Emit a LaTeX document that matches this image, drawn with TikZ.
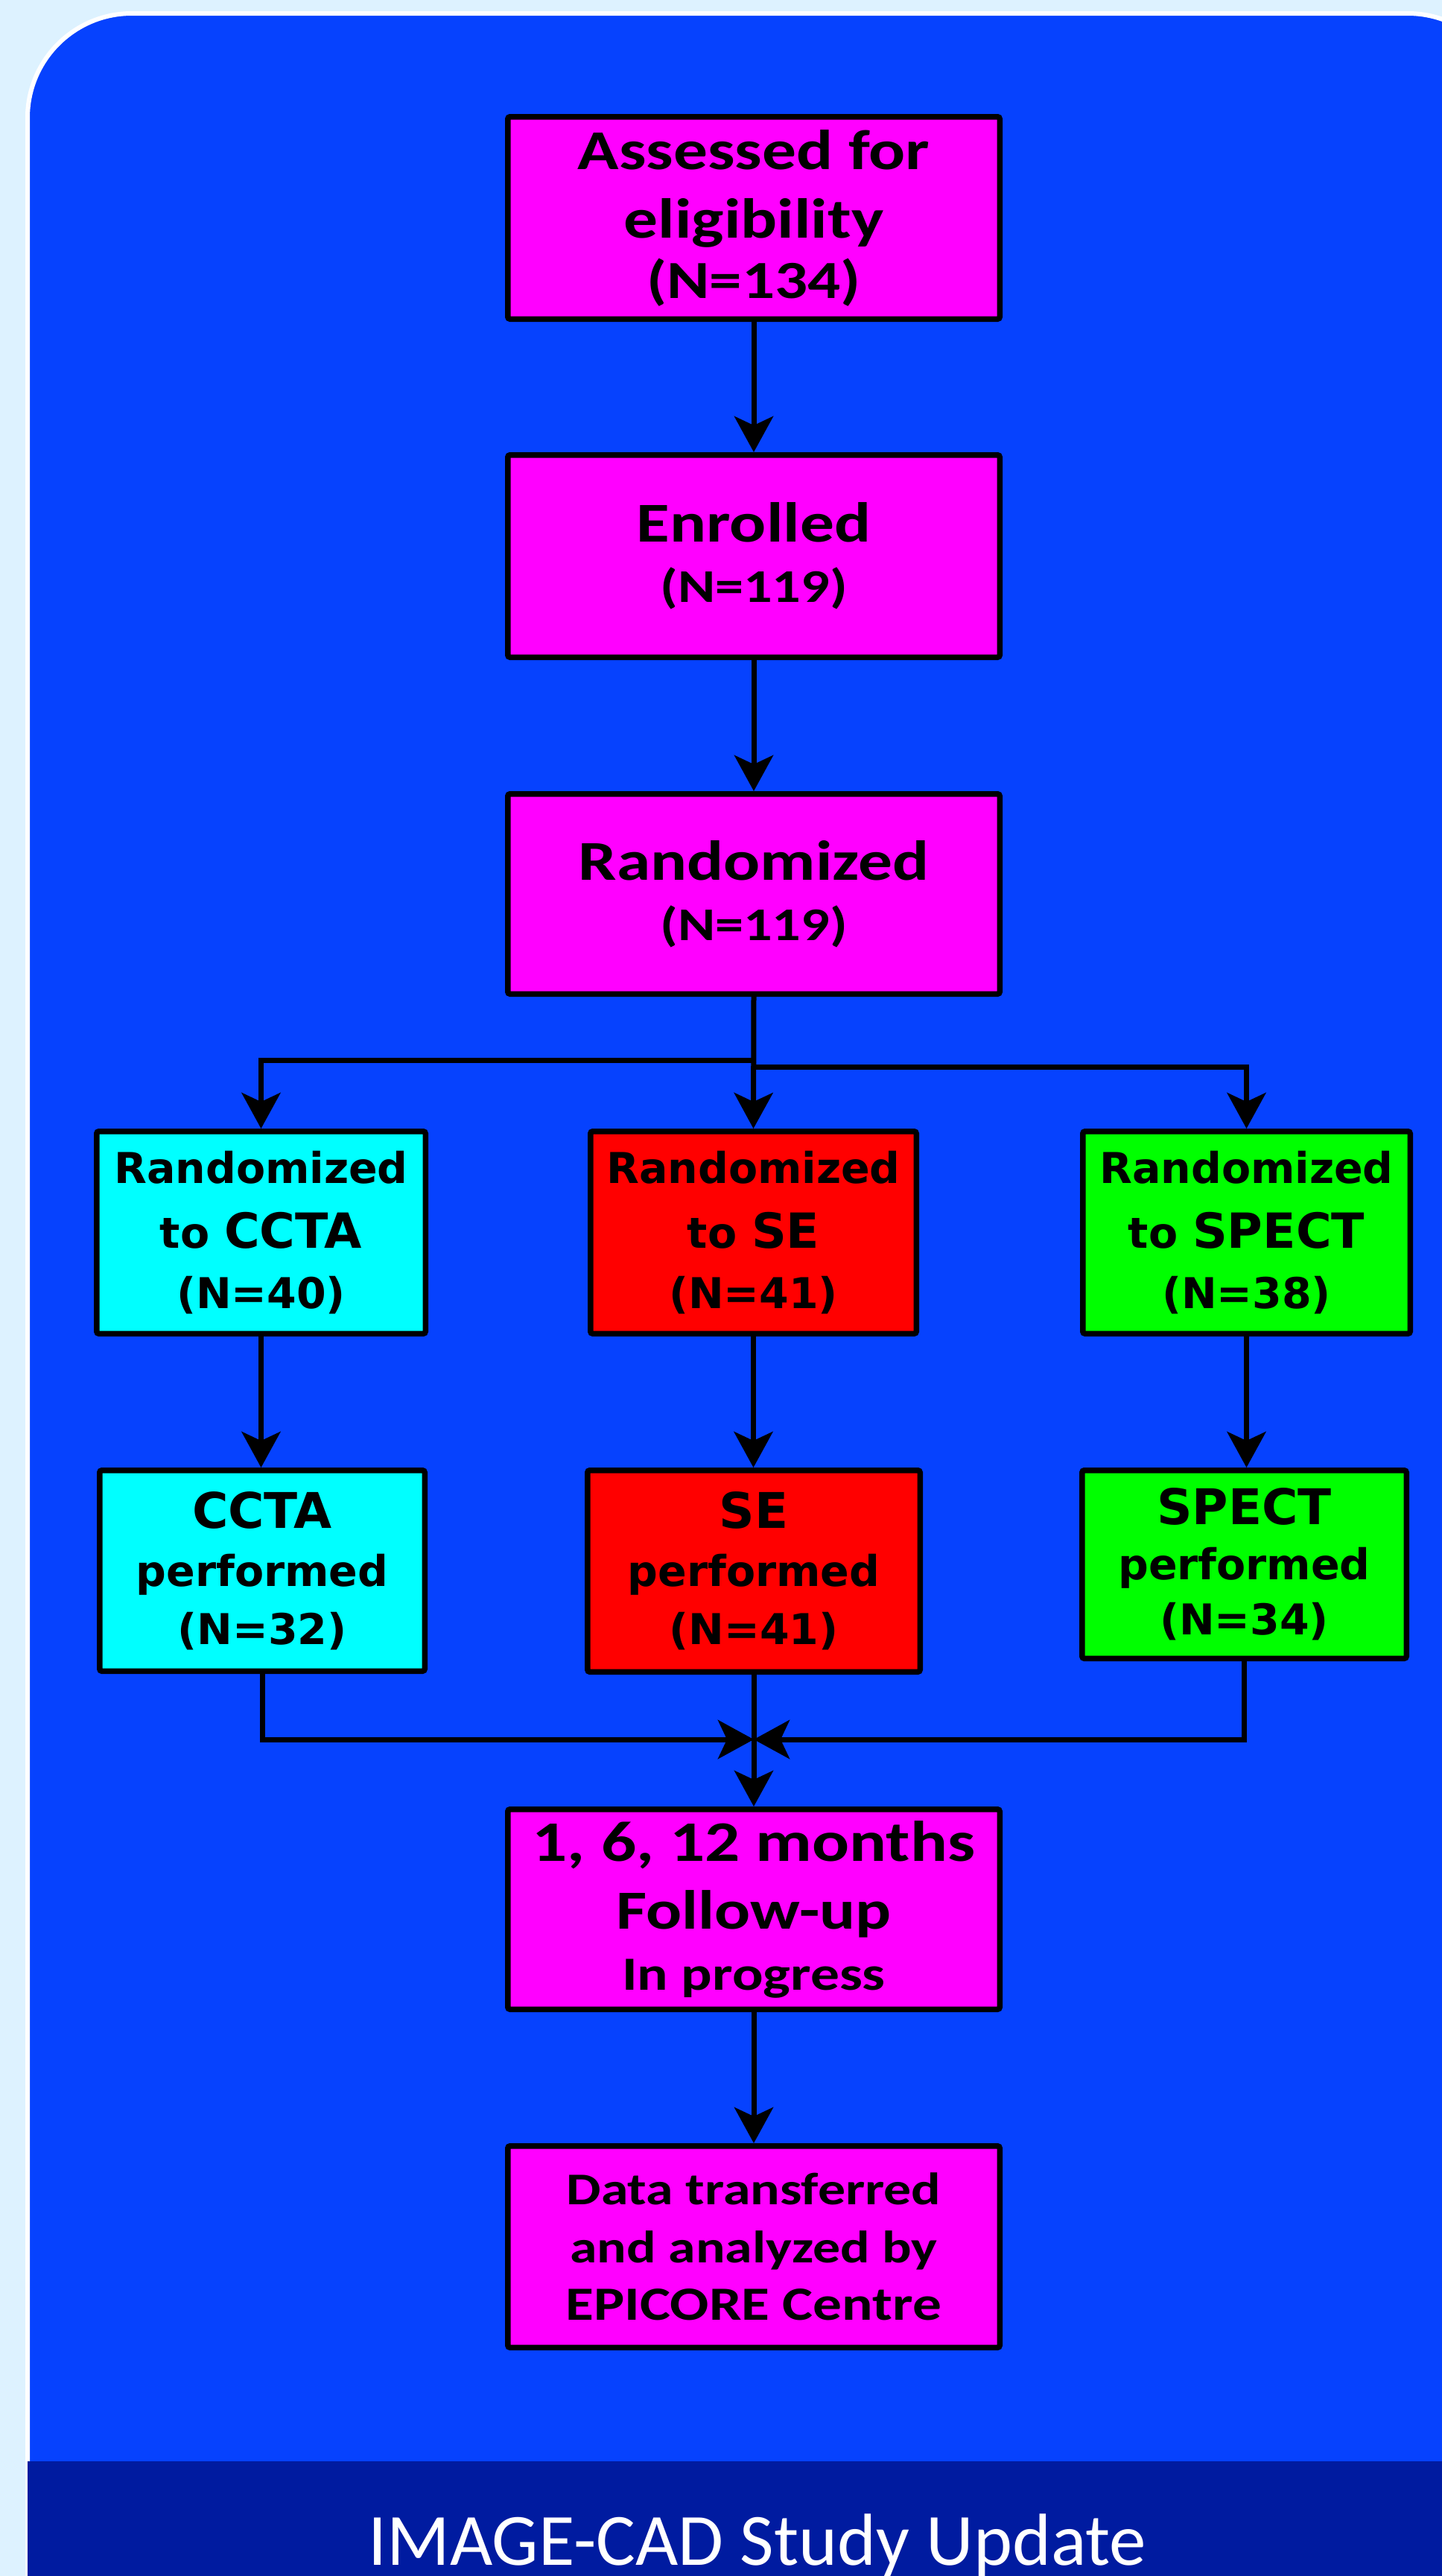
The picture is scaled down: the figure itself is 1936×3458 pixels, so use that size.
\documentclass[tikz,border=0pt]{standalone}
\usepackage{fontspec}
\setmainfont{Carlito}
\newfontfamily\calb[FakeStretch=1.21]{Carlito}
\newfontfamily\dvs{DejaVu Sans}
\usetikzlibrary{arrows.meta}
\definecolor{pagebg}{RGB}{221,242,255}
\definecolor{panelblue}{RGB}{6,66,254}
\definecolor{bannerblue}{RGB}{0,27,160}
\definecolor{boxmag}{RGB}{255,0,255}
\definecolor{boxcyan}{RGB}{0,255,255}
\definecolor{boxred}{RGB}{255,0,0}
\definecolor{boxgreen}{RGB}{0,255,0}
\begin{document}
\begin{tikzpicture}[x=0.5pt,y=-0.5pt,
  box/.style={draw=black, line width=3.75pt, rounded corners=1.5pt, inner sep=0pt, align=center, text=black},
  magbox/.style={box, fill=boxmag, minimum width=330.25pt, minimum height=135.75pt},
  colbox/.style={box, font=\dvs\bfseries\fontsize{28.5}{40.5}\selectfont},
  conn/.style={draw=black, line width=3.5pt, -{Stealth[length=24pt,width=26pt,inset=6pt]}}
]
\useasboundingbox (0,0) rectangle (1936,3458);
\clip (0,0) rectangle (1936,3458);
% background
\fill[pagebg] (0,0) rectangle (1936,3458);
\draw[white, line width=3pt, fill=panelblue, rounded corners=70pt] (37,18) rectangle (2030,3620);
\fill[bannerblue] (37,3304) rectangle (1936,3458);
\node[anchor=base, text=white, font=\fontsize{49.5}{50}\selectfont, inner sep=0pt] (banner) at (1017,3443) {IMAGE-CAD Study Update};

% central column
\node[magbox, font=\calb\bfseries\fontsize{37.8}{40.5}\selectfont] (elig) at (1012,292.5)
  {Assessed for\\[5.5pt]eligibility\\{\fontsize{36}{40.5}\selectfont (N=134)}};
\node[magbox, font=\calb\bfseries\fontsize{37.8}{40.5}\selectfont] (enrol) at (1012,746.5)
  {Enrolled\\{\fontsize{31.5}{40.5}\selectfont (N=119)}};
\node[magbox, font=\calb\bfseries\fontsize{37.8}{40.5}\selectfont, minimum height=134.25pt] (rand) at (1012,1200)
  {Randomized\\{\fontsize{31.5}{40.5}\selectfont (N=119)}};

% randomized arms
\node[colbox, fill=boxcyan, minimum width=220.75pt, minimum height=135.75pt] (rccta) at (350.5,1654.5)
  {Randomized\\[3pt]to {\fontsize{32.5}{40.5}\selectfont CCTA}\\(N=40)};
\node[colbox, fill=boxred, minimum width=218.75pt, minimum height=135.75pt] (rse) at (1011.5,1654.5)
  {Randomized\\[3pt]to {\fontsize{32.5}{40.5}\selectfont SE}\\(N=41)};
\node[colbox, fill=boxgreen, minimum width=219.75pt, minimum height=135.75pt] (rspect) at (1673.5,1654.5)
  {Randomized\\[3pt]to {\fontsize{32.5}{40.5}\selectfont SPECT}\\(N=38)};

% performed
\node[colbox, fill=boxcyan, minimum width=218.25pt, minimum height=134.75pt, font=\dvs\bfseries\fontsize{28.5}{39}\selectfont] (pccta) at (352,2108.5)
  {{\fontsize{33}{39}\selectfont CCTA}\\performed\\(N=32)};
\node[colbox, fill=boxred, minimum width=223.25pt, minimum height=135.25pt, font=\dvs\bfseries\fontsize{28.5}{39}\selectfont] (pse) at (1012,2109)
  {{\fontsize{33}{39}\selectfont SE}\\performed\\(N=41)};
\node[colbox, fill=boxgreen, minimum width=217.75pt, minimum height=126.25pt, font=\dvs\bfseries\fontsize{28.5}{37}\selectfont] (pspect) at (1670.5,2100)
  {{\fontsize{33}{37}\selectfont SPECT}\\performed\\(N=34)};

% follow-up and data
\node[magbox, font=\calb\bfseries\fontsize{37}{41}\selectfont, minimum height=134.25pt] (fup) at (1012,2563)
  {{\fontsize{38.5}{41}\selectfont 1, 6, 12 months}\\[4.5pt]Follow-up\\{\fontsize{32}{41}\selectfont In progress}};
\node[magbox, font=\calb\bfseries\fontsize{30.5}{38.75}\selectfont, minimum height=135.25pt] (data) at (1012,3016)
  {Data transferred\\and analyzed by\\{\fontsize{32}{38.75}\selectfont EPICORE Centre}};

% connectors
\coordinate (splitL) at (1012,1423);
\coordinate (splitR) at (1012,1432);
\coordinate (merge) at (1012,2335);
\draw[conn] (elig) -- (enrol);
\draw[conn] (enrol) -- (rand);
\draw[conn] (rand.south) -- (rse.north);
\draw[conn] (splitL) -| (rccta.north);
\draw[conn] (splitR) -| (rspect.north);
\draw[conn] (rccta.south) -- (rccta.south |- pccta.north);
\draw[conn] (rse.south) -- (rse.south |- pse.north);
\draw[conn] (rspect.south) -- (rspect.south |- pspect.north);
\draw[conn] (pccta.south) |- (merge);
\draw[conn] (pspect.south) |- (merge);
\draw[conn] (pse.south) -- (fup.north);
\draw[conn] (fup) -- (data);
\end{tikzpicture}
\end{document}
